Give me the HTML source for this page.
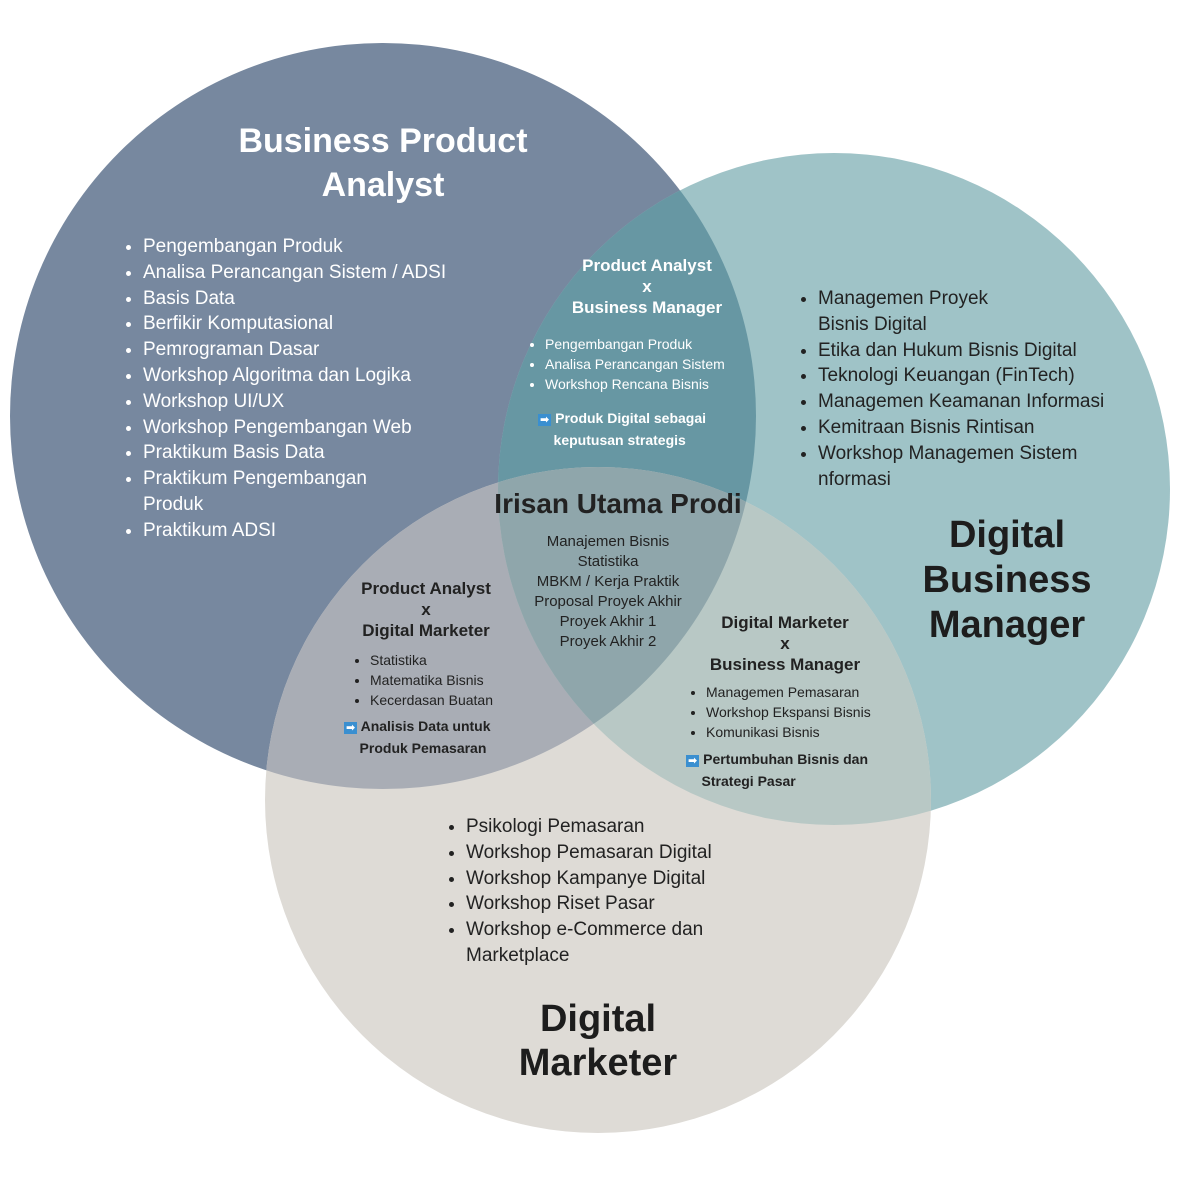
<!DOCTYPE html>
<html><head><meta charset="utf-8"><style>
body{margin:0;width:1181px;height:1181px;background:#fff;position:relative;overflow:hidden;font-family:"Liberation Sans","DejaVu Sans",sans-serif}
svg{position:absolute;left:0;top:0}
.t{position:absolute;white-space:nowrap}
ul{position:absolute;margin:0;padding:0 0 0 26px;white-space:nowrap}
li{margin:0}
.h{font-weight:bold;text-align:center;position:absolute}
</style></head><body>
<svg width="1181" height="1181">
<defs>
<clipPath id="k1"><circle cx="383" cy="416" r="373"/></clipPath>
<clipPath id="k2"><circle cx="834" cy="489" r="336"/></clipPath>
</defs>
<circle cx="383" cy="416" r="373" fill="#77889f"/>
<circle cx="834" cy="489" r="336" fill="#9fc3c7"/>
<circle cx="598" cy="800" r="333" fill="#dedbd6"/>
<circle cx="834" cy="489" r="336" fill="#6797a3" clip-path="url(#k1)"/>
<circle cx="598" cy="800" r="333" fill="#a9adb5" clip-path="url(#k1)"/>
<circle cx="598" cy="800" r="333" fill="#b8c8c5" clip-path="url(#k2)"/>
<g clip-path="url(#k1)"><circle cx="598" cy="800" r="333" fill="#8fa6ab" clip-path="url(#k2)"/></g>
</svg>

<div class="h" style="left:183px;top:119px;width:400px;font-size:34px;line-height:44px;color:#fff">Business Product<br>Analyst</div>
<ul style="left:117px;top:234px;font-size:19px;line-height:25.8px;color:#fff">
<li>Pengembangan Produk</li><li>Analisa Perancangan Sistem / ADSI</li><li>Basis Data</li><li>Berfikir Komputasional</li><li>Pemrograman Dasar</li><li>Workshop Algoritma dan Logika</li><li>Workshop UI/UX</li><li>Workshop Pengembangan Web</li><li>Praktikum Basis Data</li><li>Praktikum Pengembangan<br>Produk</li><li>Praktikum ADSI</li></ul>

<div class="h" style="left:527px;top:255px;width:240px;font-size:17px;line-height:21px;color:#fff">Product Analyst<br>x<br>Business Manager</div>
<ul style="left:519px;top:334px;font-size:14px;line-height:20px;color:#fff">
<li>Pengembangan Produk</li><li>Analisa Perancangan Sistem</li><li>Workshop Rencana Bisnis</li></ul>
<div class="t" style="left:538px;top:408px;font-size:14px;line-height:20px;color:#fff;font-weight:bold"><span style="background:#3a8fd0;font-size:11px;padding:0 2px">➡</span> Produk Digital sebagai<br>&nbsp;&nbsp;&nbsp;&nbsp;keputusan strategis</div>

<ul style="left:792px;top:286px;font-size:19px;line-height:25.8px;color:#222">
<li>Managemen Proyek<br>Bisnis Digital</li><li>Etika dan Hukum Bisnis Digital</li><li>Teknologi Keuangan (FinTech)</li><li>Managemen Keamanan Informasi</li><li>Kemitraan Bisnis Rintisan</li><li>Workshop Managemen Sistem<br>nformasi</li></ul>
<div class="h" style="left:887px;top:513px;width:240px;font-size:38px;line-height:45px;color:#1d1d1d">Digital<br>Business<br>Manager</div>

<div class="h" style="left:458px;top:487px;width:320px;font-size:28px;line-height:34px;color:#222">Irisan Utama Prodi</div>
<div class="t" style="left:508px;top:532px;width:200px;text-align:center;font-size:15px;line-height:20px;color:#222">Manajemen Bisnis<br>Statistika<br>MBKM / Kerja Praktik<br>Proposal Proyek Akhir<br>Proyek Akhir 1<br>Proyek Akhir 2</div>

<div class="h" style="left:326px;top:578px;width:200px;font-size:17px;line-height:21px;color:#222">Product Analyst<br>x<br>Digital Marketer</div>
<ul style="left:344px;top:650px;font-size:14px;line-height:20px;color:#222">
<li>Statistika</li><li>Matematika Bisnis</li><li>Kecerdasan Buatan</li></ul>
<div class="t" style="left:344px;top:716px;font-size:14px;line-height:20px;color:#222;font-weight:bold"><span style="background:#3a8fd0;color:#fff;font-size:11px;padding:0 2px">➡</span> Analisis Data untuk<br>&nbsp;&nbsp;&nbsp;&nbsp;Produk Pemasaran</div>

<div class="h" style="left:685px;top:612px;width:200px;font-size:17px;line-height:21px;color:#222">Digital Marketer<br>x<br>Business Manager</div>
<ul style="left:680px;top:682px;font-size:14px;line-height:20px;color:#222">
<li>Managemen Pemasaran</li><li>Workshop Ekspansi Bisnis</li><li>Komunikasi Bisnis</li></ul>
<div class="t" style="left:686px;top:749px;font-size:14px;line-height:20px;color:#222;font-weight:bold"><span style="background:#3a8fd0;color:#fff;font-size:11px;padding:0 2px">➡</span> Pertumbuhan Bisnis dan<br>&nbsp;&nbsp;&nbsp;&nbsp;Strategi Pasar</div>

<ul style="left:440px;top:814px;font-size:19px;line-height:25.8px;color:#222">
<li>Psikologi Pemasaran</li><li>Workshop Pemasaran Digital</li><li>Workshop Kampanye Digital</li><li>Workshop Riset Pasar</li><li>Workshop e-Commerce dan<br>Marketplace</li></ul>
<div class="h" style="left:448px;top:997px;width:300px;font-size:38px;line-height:44px;color:#1d1d1d">Digital<br>Marketer</div>
</body></html>
